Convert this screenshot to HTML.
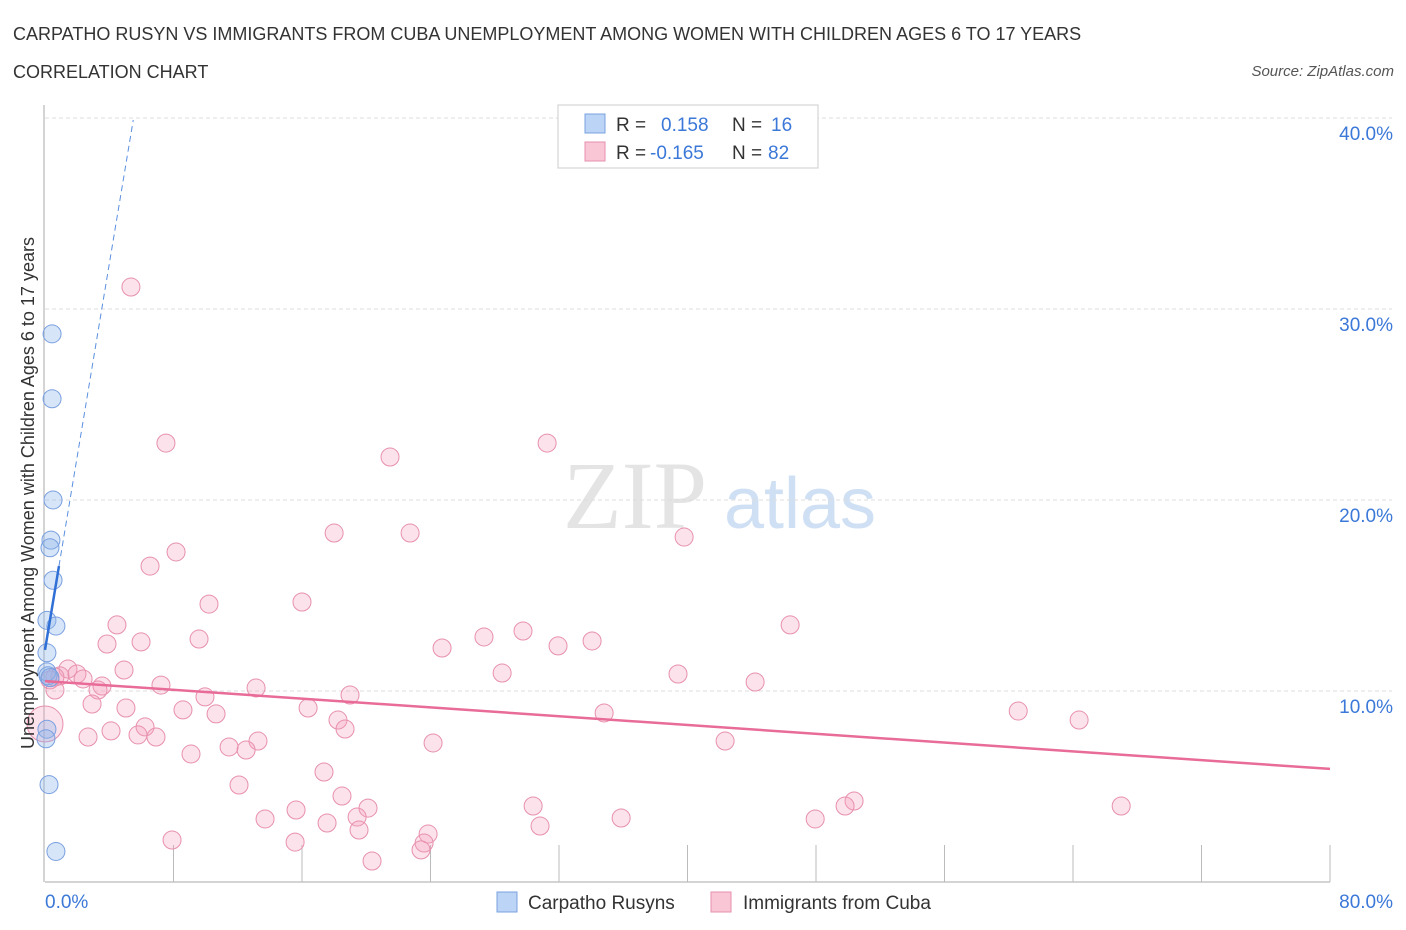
<!DOCTYPE html>
<html><head><meta charset="utf-8"><style>
body{margin:0;background:#fff;font-family:"Liberation Sans",sans-serif;}
#wrap{position:relative;width:1406px;height:930px;overflow:hidden;}
</style></head><body>
<div id="wrap">
<svg id="chart" width="1406" height="930" xmlns="http://www.w3.org/2000/svg">
<text x="13" y="40" font-size="18" fill="#333">CARPATHO RUSYN VS IMMIGRANTS FROM CUBA UNEMPLOYMENT AMONG WOMEN WITH CHILDREN AGES 6 TO 17 YEARS</text>
<text x="13" y="78" font-size="18" fill="#333">CORRELATION CHART</text>
<text x="1394" y="76" font-size="15" fill="#555" font-style="italic" text-anchor="end">Source: ZipAtlas.com</text>
<text x="635" y="528" font-size="96" fill="#e4e4e4" font-family="Liberation Serif,serif" text-anchor="middle">ZIP</text>
<text x="800" y="528" font-size="72" fill="#cfe0f4" text-anchor="middle">atlas</text>
<g id="grid"></g>
<g id="axes"></g>
<g id="marks"></g>
<text transform="translate(34,493) rotate(-90)" font-size="18" fill="#333" text-anchor="middle">Unemployment Among Women with Children Ages 6 to 17 years</text>
<g>
<rect x="558" y="105" width="260" height="63" fill="#fff" stroke="#ccc"/>
<rect x="585" y="114" width="20" height="19" fill="#bcd4f5" stroke="#7aa0e0"/>
<rect x="585" y="142" width="20" height="19" fill="#f9c6d6" stroke="#e790ad"/>
<text x="616" y="131" font-size="19" fill="#333">R = </text><text x="661" y="131" font-size="19" fill="#3b78d8">0.158</text>
<text x="732" y="131" font-size="19" fill="#333">N = </text><text x="771" y="131" font-size="19" fill="#3b78d8">16</text>
<text x="616" y="159" font-size="19" fill="#333">R = </text><text x="650" y="159" font-size="19" fill="#3b78d8">-0.165</text>
<text x="732" y="159" font-size="19" fill="#333">N = </text><text x="768" y="159" font-size="19" fill="#3b78d8">82</text>
</g>
<g>
<rect x="497" y="892" width="20" height="20" fill="#bcd4f5" stroke="#7aa0e0"/>
<text x="528" y="909" font-size="19" fill="#333">Carpatho Rusyns</text>
<rect x="711" y="892" width="20" height="20" fill="#f9c6d6" stroke="#e790ad"/>
<text x="743" y="909" font-size="19" fill="#333">Immigrants from Cuba</text>
</g>
</svg>
</div>
<script>
const yTicks=[10,20,30,40];
const yTickLabels=["10.0%","20.0%","30.0%","40.0%"];
const xTickLabels=["0.0%","80.0%"];
const blueX=[0.44,0.44,0.5,0.37,0.31,0.5,0.12,0.68,0.12,0.12,0.19,0.31,0.12,0.06,0.25,0.68];
const blueY=[28.7,25.3,20.0,17.9,17.5,15.8,13.7,13.4,12.0,11.0,10.8,10.7,8.0,7.5,5.1,1.6];
const pinkX=[5.35,7.53,31.26,21.48,18.0,22.73,39.79,8.16,6.54,10.21,16.0,4.48,46.39,29.76,27.33,5.98,34.06,3.86,9.59,24.72,31.94,4.92,1.43,1.99,28.46,39.41,0.93,2.37,0.62,0.31,44.21,3.55,3.3,7.22,13.14,9.96,18.99,2.93,5.04,8.59,16.38,10.65,34.81,60.59,64.38,18.24,6.23,4.11,18.68,2.68,5.79,6.91,13.26,24.16,11.46,12.52,42.34,9.09,17.37,12.08,18.49,15.63,20.11,30.39,50.37,49.81,67.0,19.43,13.7,17.56,47.95,35.87,19.55,30.82,23.85,7.91,15.57,23.6,23.41,20.36,0.0,0.62];
const pinkY=[31.15,22.98,22.98,22.25,18.27,18.27,18.06,17.28,16.54,14.55,14.66,13.46,13.46,13.14,12.83,12.57,12.62,12.46,12.72,12.25,12.36,11.1,11.15,10.89,10.94,10.89,10.79,10.63,10.73,10.58,10.47,10.26,10.05,10.31,10.16,9.69,9.79,9.32,9.11,9.01,9.11,8.8,8.85,8.95,8.48,8.48,8.12,7.91,8.01,7.59,7.7,7.59,7.38,7.28,7.07,6.91,7.38,6.7,5.76,5.08,4.5,3.77,3.87,3.98,4.24,3.98,3.98,3.4,3.3,3.09,3.3,3.35,2.72,2.93,2.51,2.2,2.09,2.04,1.68,1.1,8.27,10.05];
const pinkR=[];pinkR[80]=18;
const blueTrend=[12.15,5.05];
const pinkTrend=[10.52,-0.0575];
const X0=45,X1=1330,Y0=882,Y40=118;
const sx=v=>X0+(X1-X0)*v/80;
const sy=v=>Y0-(Y0-Y40)*v/40;
const NS="http://www.w3.org/2000/svg";
function mk(tag,attrs,parent){const e=document.createElementNS(NS,tag);for(const k in attrs)e.setAttribute(k,attrs[k]);parent.appendChild(e);return e;}
const grid=document.getElementById('grid'),axes=document.getElementById('axes'),marks=document.getElementById('marks');
yTicks.forEach((t,i)=>{
 const l=mk('line',{x1:X0,x2:1392,y1:sy(t),y2:sy(t),stroke:'#ddd','stroke-dasharray':'4 3'},grid);
 
 
 const tx=mk('text',{x:1393,y:sy(t)+22,'font-size':19,fill:'#3b78d8','text-anchor':'end'},axes);
 tx.textContent=yTickLabels[i];
 
 
});
const ya=mk('line',{x1:X0-1,x2:X0-1,y1:105,y2:Y0,stroke:'#aaa'},axes);


const xa=mk('line',{x1:X0,x2:X1,y1:Y0,y2:Y0,stroke:'#aaa'},axes);


for(let v=8;v<=80;v+=8){
 const t=mk('line',{x1:sx(v),x2:sx(v),y1:845,y2:Y0,stroke:'#bbb'},axes);
 
 
}
[[xTickLabels[0],45,'start'],[xTickLabels[1],1393,'end']].forEach(a=>{
 const t=mk('text',{x:a[1],y:908,'font-size':19,fill:'#3b78d8','text-anchor':a[2]},axes);
 t.textContent=a[0];
 
 
});
pinkX.forEach((x,i)=>{
 const c=mk('circle',{cx:sx(x),cy:sy(pinkY[i]),r:pinkR[i]||9,fill:'rgba(244,160,190,0.3)',stroke:'#e790ad','stroke-width':1},marks);
 
 
});
blueX.forEach((x,i)=>{
 const c=mk('circle',{cx:sx(x),cy:sy(blueY[i]),r:9,fill:'rgba(140,180,235,0.35)',stroke:'#7aa0e0','stroke-width':1},marks);
 
 
});
const pl=mk('line',{x1:sx(0),y1:sy(pinkTrend[0]),x2:sx(80),y2:sy(pinkTrend[0]+pinkTrend[1]*80),stroke:'#e86b98','stroke-width':2.5},marks);


const bxEnd=0.87,bxDash=(39.9-blueTrend[0])/blueTrend[1];
const bl=mk('line',{x1:sx(0),y1:sy(blueTrend[0]),x2:sx(bxEnd),y2:sy(blueTrend[0]+blueTrend[1]*bxEnd),stroke:'#2f6fd6','stroke-width':2.5},marks);


const bd=mk('line',{x1:sx(bxEnd),y1:sy(blueTrend[0]+blueTrend[1]*bxEnd),x2:sx(bxDash),y2:sy(39.9),stroke:'#5a8fe0','stroke-width':1,'stroke-dasharray':'6 4'},marks);


</script>
</body></html>
